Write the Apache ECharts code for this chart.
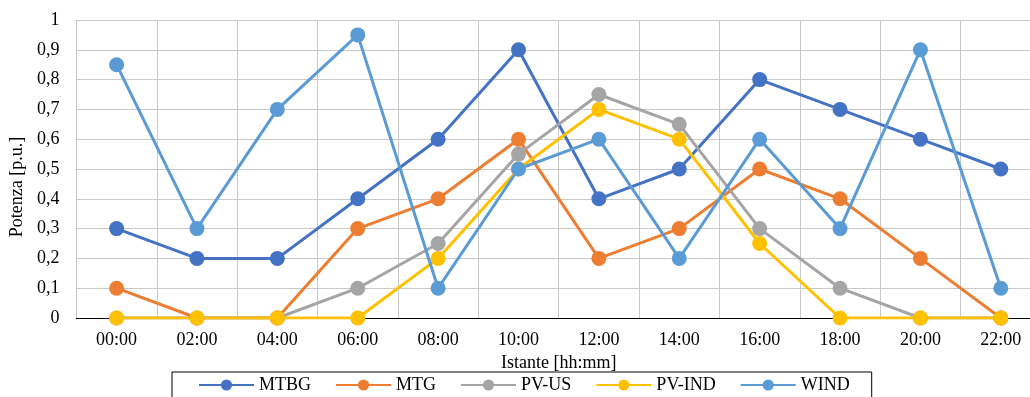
<!DOCTYPE html>
<html>
<head>
<meta charset="utf-8">
<script src="https://cdn.jsdelivr.net/npm/echarts@6/dist/echarts.min.js"></script>
<style>html,body{margin:0;padding:0;background:#fff;overflow:hidden}#c{width:1045px;height:397px}</style>
</head>
<body>
<div id="c"></div>
<script>
const categories = ['00:00','02:00','04:00','06:00','08:00','10:00','12:00','14:00','16:00','18:00','20:00','22:00'];
const MTBG = [0.3, 0.2, 0.2, 0.4, 0.6, 0.9, 0.4, 0.5, 0.8, 0.7, 0.6, 0.5];
const MTG = [0.1, 0, 0, 0.3, 0.4, 0.6, 0.2, 0.3, 0.5, 0.4, 0.2, 0];
const PVUS = [0, 0, 0, 0.1, 0.25, 0.55, 0.75, 0.65, 0.3, 0.1, 0, 0];
const PVIND = [0, 0, 0, 0, 0.2, 0.5, 0.7, 0.6, 0.25, 0, 0, 0];
const WIND = [0.85, 0.3, 0.7, 0.95, 0.1, 0.5, 0.6, 0.2, 0.6, 0.3, 0.9, 0.1];
const seriesNames = ['MTBG','MTG','PV-US','PV-IND','WIND'];
const seriesData = [MTBG, MTG, PVUS, PVIND, WIND];
const colors = ['#4472C4','#ED7D31','#A5A5A5','#FFC000','#5B9BD5'];

const font = '"Liberation Serif", "Times New Roman", serif';
const chart = echarts.init(document.getElementById('c'));
chart.setOption({
  animation: false,
  textStyle: { fontFamily: font },
  grid: { left: 75, top: 20, right: 4, bottom: 79 },
  xAxis: {
    type: 'category',
    data: categories,
    boundaryGap: true,
    name: 'Istante [hh:mm]',
    nameLocation: 'middle',
    nameGap: 29,
    nameTextStyle: { fontFamily: font, fontSize: 18, color: '#000' },
    axisLine: { lineStyle: { color: '#000', width: 1 } },
    axisTick: { show: false },
    axisLabel: { fontFamily: font, fontSize: 18, color: '#000', margin: 13, interval: 0 },
    splitLine: { show: true, interval: 0, lineStyle: { color: '#c8c8c8', width: 1 } }
  },
  yAxis: {
    type: 'value',
    min: 0, max: 1, interval: 0.1,
    name: 'Potenza [p.u.]',
    nameLocation: 'middle',
    nameRotate: 90,
    nameGap: 49,
    nameTextStyle: { fontFamily: font, fontSize: 18, color: '#000', padding: [0, 36, 0, 0] },
    axisLine: { show: false },
    axisTick: { show: false },
    axisLabel: { fontFamily: font, fontSize: 18, color: '#000', margin: 17,
      formatter: v => String(parseFloat(v.toFixed(1))).replace('.', ',') },
    splitLine: { show: true, lineStyle: { color: '#c8c8c8', width: 1 } }
  },
  legend: {
    left: 172, top: 372,
    padding: [4, 22, 10, 26],
    borderColor: '#000', borderWidth: 1,
    itemWidth: 55, itemHeight: 14, itemGap: 24,
    textStyle: { fontFamily: font, fontSize: 18, color: '#000' },
    data: seriesNames
  },
  series: seriesNames.map((n, i) => ({
    name: n,
    type: 'line',
    data: seriesData[i],
    symbol: 'circle',
    symbolSize: 15,
    color: colors[i],
    lineStyle: { width: 3, color: colors[i] },
    itemStyle: { color: colors[i] }
  }))
});
</script>
</body>
</html>
